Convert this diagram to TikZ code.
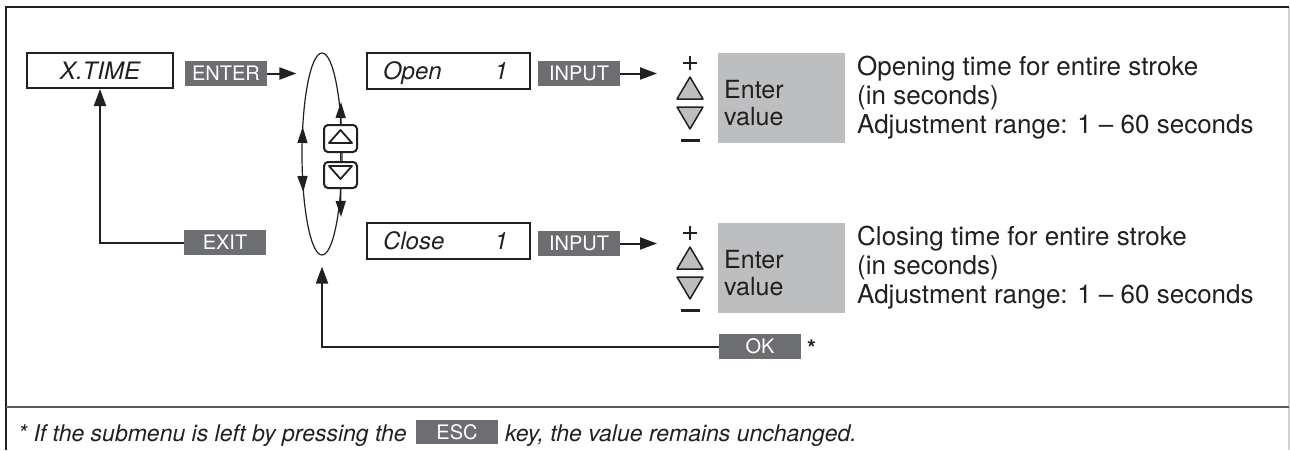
\documentclass[tikz,border=0pt]{standalone}
\usepackage{fontspec}
\setmainfont{TeX Gyre Heros}
\usetikzlibrary{arrows.meta,shapes.geometric,calc}
\definecolor{labgray}{HTML}{6D6E71}
\definecolor{boxgray}{HTML}{BCBEC0}
\definecolor{ink}{HTML}{231F20}
\definecolor{divgray}{HTML}{58595B}
\definecolor{edgegray}{HTML}{D1D3D4}
\begin{document}
\begin{tikzpicture}[x=1pt,y=-1pt,
  menubox/.style={draw=ink, line width=2pt, minimum width=146pt, minimum height=35pt, inner sep=0pt,
    text height=17pt, text depth=0pt, text=ink, font=\fontsize{24}{26}\selectfont\itshape},
  keylab/.style={fill=labgray, text=white, minimum width=82pt, minimum height=25pt, inner sep=0pt,
    text height=14.4pt, text depth=0pt, font=\fontsize{20}{22}\selectfont},
  valbox/.style={fill=boxgray, minimum width=127pt, minimum height=90pt, inner sep=0pt},
  valtxt/.style={anchor=base west, inner sep=0pt, text=ink, font=\fontsize{25}{25}\selectfont},
  desc/.style={anchor=base west, inner sep=0pt, text=ink, font=\fontsize{26}{27}\selectfont},
  foot/.style={anchor=base west, inner sep=0pt, text=ink, font=\fontsize{23}{25}\selectfont\itshape},
  udbox/.style={draw=ink, fill=white, line width=2pt, rounded corners=4pt, minimum width=33pt, inner sep=0pt},
  tri/.style={draw=ink, line width=1.8pt, line join=round},
  keytri/.style={draw=ink, fill=boxgray, line width=1.5pt, line join=round},
  signline/.style={draw=ink, line width=2.6pt},
  conn/.style={draw=ink, line width=2pt},
  arr/.style={conn, -{Triangle[length=17pt,width=12pt]}},
  earr/.style={draw=ink, line width=1.4pt, -{Triangle[length=16pt,width=10pt]}}
]
\useasboundingbox (0,0) rectangle (1290,450);
% frame
\draw[edgegray, line width=1.5pt] (1289,7) -- (1289,450);
\draw[ink, line width=2.5pt] (6,450) -- (6,7) -- (1289,7);
\draw[divgray, line width=2pt] (6,407) -- (1289,407);

% left part
\node[menubox] (xtime) at (100,70.5) {X.TIME};
\node[keylab] (enter) at (226,73.5) {ENTER};
\node[draw=ink, line width=1.2pt, ellipse, minimum width=40pt, minimum height=202pt, inner sep=0pt] (ell) at (322,154) {};
\draw[arr] (enter.east) -- ([xshift=-5pt]enter.east -| ell.west);
\node[keylab] (exit) at (225,242.5) {EXIT};
\draw[arr] (exit.west) -| (xtime.south);

% arrows on the ellipse
\draw[earr] (302.5,141) -- (302.7,127);
\draw[earr] (302.5,176) -- (303.3,192);
\node[udbox, minimum height=27pt] (upk) at (340.5,138.5) {};
\node[udbox, minimum height=26pt] (dnk) at (340.5,175) {};
\draw[tri] (340.5,130) -- (352,143) -- (329,143) -- cycle;
\draw[tri] (329,166) -- (352,166) -- (340.5,179) -- cycle;
\draw[draw=ink, line width=1.4pt] (upk.south) -- (dnk.north);
\draw[earr] (upk.north) -- (341,102);
\draw[earr] (dnk.south) -- (341,217);

% row 1
\node[menubox, minimum width=163pt, minimum height=36pt] (open) at (448.5,71) {\makebox[125pt][s]{Open\hfill 1}\hspace*{6pt}};
\node[keylab] (in1) at (579,73.5) {INPUT};
\coordinate (a1) at (657,73.5);
\draw[arr] (in1.east) -- (a1);
\draw[signline] (683,63) -- (697,63) (690,56) -- (690,70);
\draw[keytri] (690,77) -- (703,99) -- (677,99) -- cycle;
\draw[keytri] (677,107) -- (703,107) -- (690,129) -- cycle;
\draw[ink, line width=3pt] (681,140) -- (700,140);
\node[valbox] (v1) at (781.5,98) {};
\node[valtxt] (e1) at (724,98) {Enter};
\node[valtxt] (w1) at (724,125) {value};
\node[desc] (d11) at (857,75) {Opening time for entire stroke};
\node[desc] (d12) at (857,104) {(in seconds)};
\node[desc] (d13) at (857,133) {Adjustment range: 1 – 60 seconds};

% row 2
\node[menubox, minimum width=163pt, minimum height=36pt] (close) at (448.5,241) {\makebox[125pt][s]{Close\hfill 1}\hspace*{6pt}};
\node[keylab] (in2) at (579,243.5) {INPUT};
\coordinate (a2) at (657,243.5);
\draw[arr] (in2.east) -- (a2);
\draw[signline] (683,233) -- (697,233) (690,226) -- (690,240);
\draw[keytri] (690,247) -- (703,269) -- (677,269) -- cycle;
\draw[keytri] (677,277) -- (703,277) -- (690,299) -- cycle;
\draw[ink, line width=3pt] (681,310) -- (700,310);
\node[valbox] (v2) at (781.5,268) {};
\node[valtxt] (e2) at (724,268) {Enter};
\node[valtxt] (w2) at (724,295) {value};
\node[desc] (d21) at (857,245) {Closing time for entire stroke};
\node[desc] (d22) at (857,274) {(in seconds)};
\node[desc] (d23) at (857,303) {Adjustment range: 1 – 60 seconds};

% OK return
\node[keylab] (ok) at (760,346.5) {OK};
\draw[arr, shorten >=11pt] (ok.west) -| (ell.south);
\node[anchor=base west, inner sep=0pt, text=ink, font=\fontsize{23}{23}\selectfont\bfseries] (star) at (807,356) {*};

% footnote
\node[foot] (fn1) at (18,441) {* If the submenu is left by pressing the};
\node[keylab, minimum height=24pt] (esc) at (457,432) {ESC};
\node[foot] (fn2) at (505,441) {key, the value remains unchanged.};
\end{tikzpicture}
\end{document}
